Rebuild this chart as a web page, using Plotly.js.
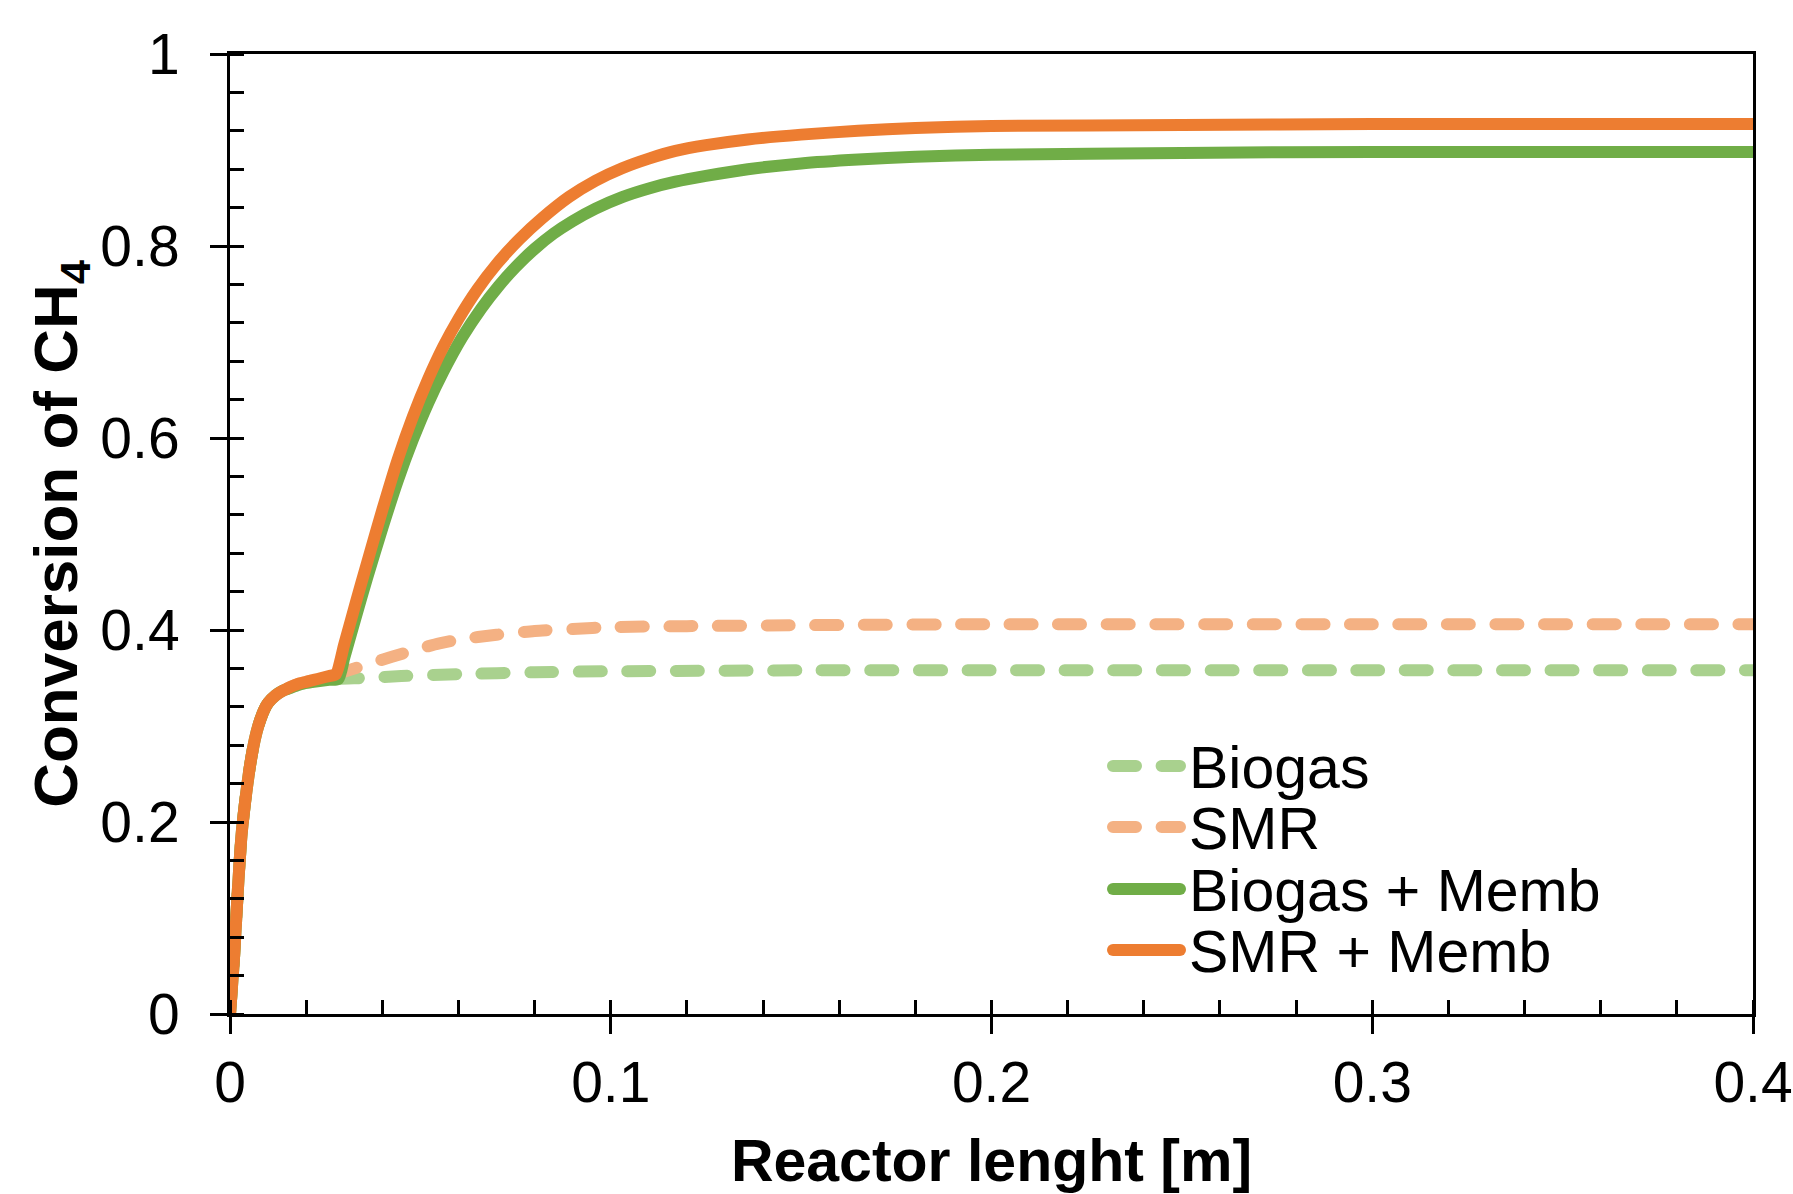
<!DOCTYPE html>
<html><head><meta charset="utf-8">
<script src="https://cdn.plot.ly/plotly-3.0.1.min.js"></script>
<style>html,body{margin:0;padding:0;background:#fff}</style>
</head><body><div id="chart" style="width:1793px;height:1194px"></div>
<script>
// ---------- DATA ----------
const seriesNames = ['Biogas', 'SMR', 'Biogas + Memb', 'SMR + Memb'];

const biogasX = [0,0.001,0.002,0.003,0.004,0.005,0.006,0.007,0.008,0.009,0.010,0.012,0.014,0.016,0.018,0.020,0.022,0.024,0.026,
  0.0285,0.035,0.045,0.060,0.080,0.100,0.150,0.200,0.300,0.400];
const biogasY = [0,0.055,0.125,0.185,0.222,0.252,0.276,0.294,0.307,0.317,0.324,0.332,0.337,0.340,0.343,0.345,0.346,0.347,0.348,
  0.349,0.350,0.352,0.354,0.356,0.357,0.358,0.358,0.358,0.358];

const smrX = [0,0.001,0.002,0.003,0.004,0.005,0.006,0.007,0.008,0.009,0.010,0.012,0.014,0.016,0.018,0.020,0.022,0.024,0.026,
  0.0278,0.032,0.036,0.040,0.045,0.050,0.055,0.060,0.070,0.080,0.090,0.100,0.120,0.150,0.200,0.300,0.400];
const smrY = [0,0.055,0.125,0.185,0.222,0.252,0.276,0.294,0.307,0.317,0.324,0.332,0.337,0.341,0.344,0.346,0.348,0.350,0.352,
  0.354,0.359,0.364,0.369,0.375,0.381,0.386,0.390,0.395,0.399,0.401,0.403,0.404,0.405,0.406,0.406,0.406];

const biogasMembX = [0,0.001,0.002,0.003,0.004,0.005,0.006,0.007,0.008,0.009,0.010,0.012,0.014,0.016,0.018,0.020,0.022,0.024,0.026,
  0.0285,0.030,0.033,0.036,0.040,0.044,0.048,0.052,0.056,0.061,0.066,0.0705,0.075,0.080,0.085,0.090,0.096,0.103,0.110,0.117,0.125,0.136,0.150,0.165,0.180,0.200,0.250,0.300,0.400];
const biogasMembY = [0,0.055,0.125,0.185,0.222,0.252,0.276,0.294,0.307,0.317,0.324,0.332,0.337,0.340,0.343,0.345,0.346,0.347,0.348,
  0.349,0.371,0.413,0.454,0.506,0.555,0.598,0.636,0.669,0.705,0.735,0.758,0.778,0.797,0.813,0.826,0.839,0.851,0.860,0.867,0.873,0.880,0.886,0.890,0.893,0.895,0.897,0.898,0.898];

const smrMembX = [0,0.001,0.002,0.003,0.004,0.005,0.006,0.007,0.008,0.009,0.010,0.012,0.014,0.016,0.018,0.020,0.022,0.024,0.026,
  0.0278,0.030,0.033,0.036,0.040,0.044,0.048,0.052,0.056,0.060,0.065,0.070,0.076,0.082,0.089,0.096,0.103,0.110,0.117,0.125,0.136,0.150,0.165,0.180,0.200,0.250,0.300,0.400];
const smrMembY = [0,0.055,0.125,0.185,0.222,0.252,0.276,0.294,0.307,0.317,0.324,0.332,0.337,0.341,0.344,0.346,0.348,0.350,0.352,
  0.354,0.385,0.428,0.470,0.525,0.577,0.622,0.661,0.695,0.724,0.755,0.781,0.807,0.829,0.851,0.868,0.881,0.891,0.899,0.905,0.911,0.916,0.920,0.923,0.925,0.926,0.927,0.927];

const xTitle = 'Reactor lenght [m]';
const yTitle = 'Conversion of CH<sub>4</sub>';

// ---------- STYLE ----------
const colors = ['#A9D18E', '#F4B183', '#70AD47', '#ED7D31'];
const dashes = ['23px,25.6px', '23px,25.6px', 'solid', 'solid'];
const widths = [12, 12, 12, 12];
const FONT = 'Liberation Sans, Arial, Helvetica, sans-serif';

const W = 1793, H = 1194;
const M = {l: 230, r: 40, t: 54, b: 180};
const PW = W - M.l - M.r, PH = H - M.t - M.b;

const xs = [biogasX, smrX, biogasMembX, smrMembX];
const ys = [biogasY, smrY, biogasMembY, smrMembY];

const traces = seriesNames.map((n, i) => ({
  type: 'scatter', mode: 'lines', name: n, x: xs[i], y: ys[i],
  line: {color: colors[i], width: widths[i], dash: dashes[i], shape: 'spline', smoothing: 0.6},
  showlegend: false, hoverinfo: 'skip'
}));

// custom legend (Excel-like: long line sample, tight spacing)
const px2x = px => (px - M.l) / PW;
const py2y = py => (M.t + PH - py) / PH;
const legRowY = [766, 827, 889, 950];
const legLine = [1113, 1180];
const legTextX = 1187;
const shapes = [], annotations = [];
seriesNames.forEach((n, i) => {
  shapes.push({type: 'line', xref: 'paper', yref: 'paper',
    x0: px2x(legLine[0]), x1: px2x(legLine[1]), y0: py2y(legRowY[i]), y1: py2y(legRowY[i]),
    line: {color: colors[i], width: widths[i], dash: dashes[i]}});
  annotations.push({xref: 'paper', yref: 'paper', x: px2x(legTextX), y: py2y(legRowY[i] + 2),
    xanchor: 'left', yanchor: 'middle', showarrow: false, text: n,
    font: {family: FONT, size: 59, color: '#000'}});
});

const axCommon = {
  showgrid: false, zeroline: false, showline: true, linewidth: 3, linecolor: '#000', mirror: true,
  ticks: 'outside', ticklen: 17, tickwidth: 3, tickcolor: '#000',
  tickfont: {family: FONT, size: 57, color: '#000'}
};

const layout = {
  width: W, height: H, margin: M,
  paper_bgcolor: '#fff', plot_bgcolor: '#fff',
  font: {family: FONT, color: '#000'},
  showlegend: false,
  xaxis: Object.assign({}, axCommon, {
    range: [0, 0.4], tick0: 0, dtick: 0.1, ticklabelstandoff: 0,
    minor: {dtick: 0.02, ticks: 'inside', ticklen: 14, tickwidth: 3, tickcolor: '#000', showgrid: false},
    title: {text: xTitle, font: {family: FONT, size: 59, weight: 'bold', color: '#000'}, standoff: 37}
  }),
  yaxis: Object.assign({}, axCommon, {
    range: [0, 1], tick0: 0, dtick: 0.2, ticklabelstandoff: 19,
    minor: {dtick: 0.04, ticks: 'inside', ticklen: 14, tickwidth: 3, tickcolor: '#000', showgrid: false},
    title: {text: yTitle, font: {family: FONT, size: 62, weight: 'bold', color: '#000'}, standoff: 3}
  }),
  xaxis2: {overlaying: 'x', anchor: 'y', side: 'bottom', range: [0, 0.4], tick0: 0, dtick: 0.1,
    ticks: 'inside', ticklen: 14, tickwidth: 3, tickcolor: '#000', showticklabels: false,
    showline: false, showgrid: false, zeroline: false},
  yaxis2: {overlaying: 'y', anchor: 'x', side: 'left', range: [0, 1], tick0: 0, dtick: 0.2,
    ticks: 'inside', ticklen: 14, tickwidth: 3, tickcolor: '#000', showticklabels: false,
    showline: false, showgrid: false, zeroline: false},
  shapes: shapes,
  annotations: annotations
};

Plotly.newPlot('chart', traces, layout, {staticPlot: true, displayModeBar: false}).then(gd => {
  gd.querySelectorAll('.scatterlayer .js-line, .shapelayer path').forEach(p => {
    p.style.strokeLinecap = 'round';
    p.style.strokeLinejoin = 'round';
  });
});
</script></body></html>
